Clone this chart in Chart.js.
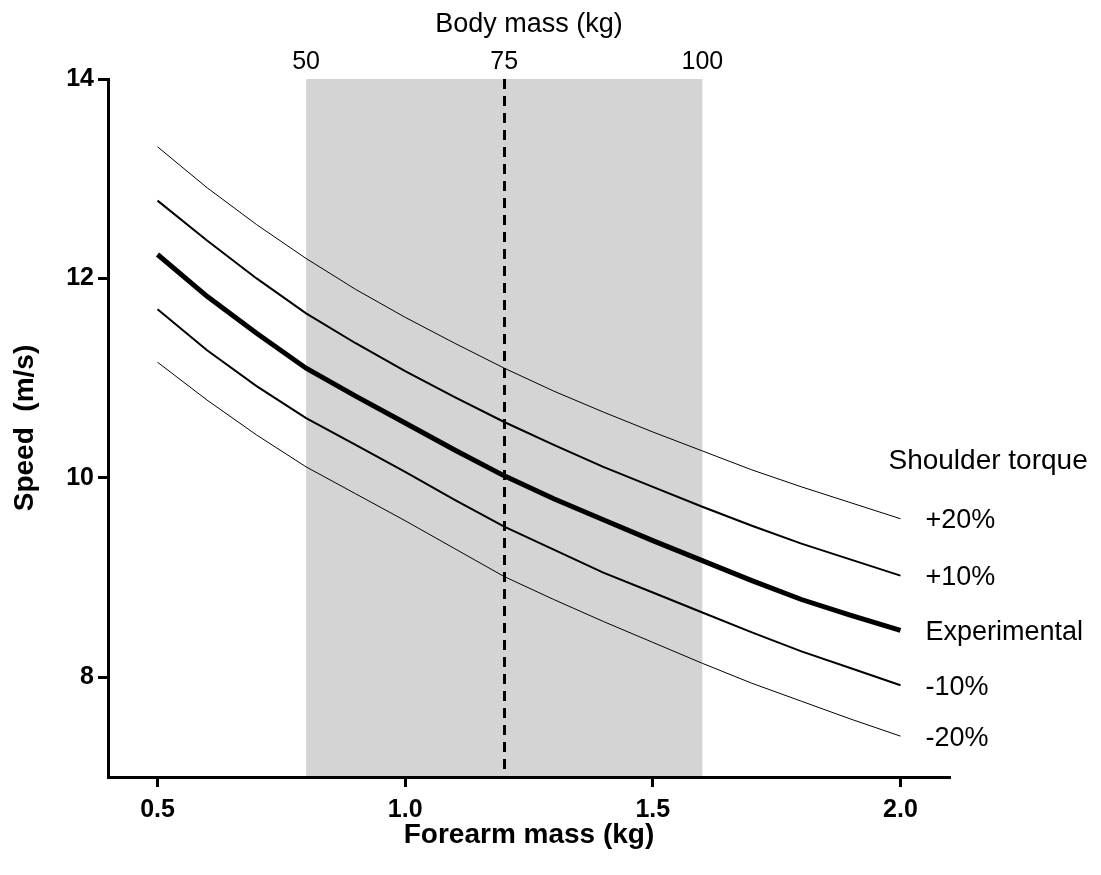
<!DOCTYPE html>
<html>
<head>
<meta charset="utf-8">
<script src="https://cdn.jsdelivr.net/npm/chart.js@4.4.1/dist/chart.umd.min.js"></script>
<style>
  html, body { margin: 0; padding: 0; background: #ffffff; }
  #wrap { width: 1101px; height: 875px; }
</style>
</head>
<body>
<div id="wrap"><canvas id="chart" width="1101" height="875"></canvas></div>
<script>
// Forearm mass (kg) at which the model speed was evaluated
const forearmMass = [0.5, 0.6, 0.7, 0.8, 0.9, 1.0, 1.1, 1.2, 1.3, 1.4, 1.5, 1.6, 1.7, 1.8, 1.9, 2.0];

// Predicted speed (m/s) for each shoulder torque condition
const speedPlus20 = [13.32, 12.91, 12.54, 12.20, 11.89, 11.61, 11.35, 11.10, 10.87, 10.66, 10.46, 10.27, 10.08, 9.91, 9.75, 9.59];
const speedPlus10 = [12.78, 12.38, 12.00, 11.65, 11.35, 11.07, 10.81, 10.56, 10.33, 10.11, 9.91, 9.71, 9.52, 9.34, 9.18, 9.02];
const speedExperimental = [12.24, 11.82, 11.45, 11.10, 10.82, 10.55, 10.28, 10.02, 9.79, 9.58, 9.37, 9.17, 8.97, 8.78, 8.62, 8.47];
const speedMinus10 = [11.69, 11.28, 10.92, 10.60, 10.33, 10.06, 9.78, 9.51, 9.28, 9.05, 8.85, 8.65, 8.45, 8.26, 8.09, 7.92];
const speedMinus20 = [11.16, 10.78, 10.43, 10.11, 9.84, 9.57, 9.29, 9.01, 8.78, 8.56, 8.35, 8.14, 7.94, 7.76, 7.58, 7.41];

const seriesLabels = ['+20%', '+10%', 'Experimental', '-10%', '-20%'];
const legendHeading = 'Shoulder torque';

// Axis ticks
const forearmTicks = [0.5, 1.0, 1.5, 2.0];
const speedTicks = [8, 10, 12, 14];
const bodyMassTicks = [50, 75, 100];

// Typical adult body-mass range and the reference body mass
const bodyMassRange = [50, 100];
const referenceBodyMass = 75;
// forearm mass as a fraction of body mass
const forearmFraction = 0.016;

const forearmMin = 0.4, forearmMax = 2.1;

const toPoints = vals => forearmMass.map((m, i) => ({ x: m, y: vals[i] }));

const seriesValues = [speedPlus20, speedPlus10, speedExperimental, speedMinus10, speedMinus20];
const seriesWidths = [1, 2, 5, 2, 1];

const datasets = seriesValues.map((vals, i) => ({
  label: seriesLabels[i],
  data: toPoints(vals),
  borderColor: '#000000',
  borderWidth: seriesWidths[i],
  pointRadius: 0,
  tension: 0,
  fill: false,
  xAxisID: 'x',
  yAxisID: 'y'
}));

const sans = '"Liberation Sans", Arial, sans-serif';

// Shaded body-mass band and dashed reference line, painted under axes and curves
const bandPlugin = {
  id: 'bodyMassBand',
  beforeDraw(chart) {
    const { ctx, chartArea, scales } = chart;
    const top = scales.x2;
    const l = top.getPixelForValue(bodyMassRange[0]);
    const r = top.getPixelForValue(bodyMassRange[1]);
    ctx.save();
    ctx.fillStyle = '#d4d4d4';
    ctx.fillRect(l, chartArea.top, r - l, chartArea.bottom - chartArea.top);
    const xr = Math.round(top.getPixelForValue(referenceBodyMass)) + 0.5;
    ctx.strokeStyle = '#000000';
    ctx.lineWidth = 3;
    ctx.setLineDash([10, 7]);
    ctx.beginPath();
    ctx.moveTo(xr, chartArea.top);
    ctx.lineTo(xr, chartArea.bottom);
    ctx.stroke();
    ctx.restore();
  }
};

// Series names written at the right-hand end of each curve
const endLabelPlugin = {
  id: 'endLabels',
  afterDatasetsDraw(chart) {
    const { ctx } = chart;
    ctx.save();
    ctx.fillStyle = '#000000';
    ctx.textBaseline = 'middle';
    ctx.textAlign = 'left';
    ctx.font = '27px ' + sans;
    let firstY = null, endX = null;
    chart.data.datasets.forEach((ds, i) => {
      const meta = chart.getDatasetMeta(i);
      const pt = meta.data[meta.data.length - 1];
      if (firstY === null) { firstY = pt.y; endX = pt.x; }
      ctx.fillText(ds.label, pt.x + 25, pt.y + 2);
    });
    ctx.font = '28px ' + sans;
    ctx.fillText(legendHeading, endX - 12, firstY - 57);
    ctx.restore();
  }
};

const fixedSize = (prop, size) => scale => { scale[prop] = size; };

new Chart(document.getElementById('chart'), {
  type: 'line',
  data: { datasets },
  options: {
    responsive: false,
    animation: false,
    layout: { padding: { left: 0, right: 151, top: 0, bottom: 0 } },
    plugins: { legend: { display: false }, tooltip: { enabled: false } },
    scales: {
      x: {
        type: 'linear',
        position: 'bottom',
        min: forearmMin,
        max: forearmMax,
        afterBuildTicks: s => { s.ticks = forearmTicks.map(v => ({ value: v })); },
        afterFit: fixedSize('height', 98),
        grid: { drawOnChartArea: false, drawTicks: true, tickLength: 10, tickWidth: 3, tickColor: '#000000' },
        border: { display: true, width: 3, color: '#000000' },
        ticks: {
          color: '#000000',
          padding: 8,
          maxRotation: 0,
          font: { family: sans, size: 25, weight: 'bold' },
          callback: v => Number(v).toFixed(1)
        },
        title: {
          display: true,
          text: 'Forearm mass (kg)',
          color: '#000000',
          font: { family: sans, size: 28, weight: 'bold' },
          padding: { top: 0, bottom: 23 }
        }
      },
      x2: {
        type: 'linear',
        position: 'top',
        min: forearmMin / forearmFraction,
        max: forearmMax / forearmFraction,
        afterBuildTicks: s => { s.ticks = bodyMassTicks.map(v => ({ value: v })); },
        afterFit: fixedSize('height', 79),
        grid: { display: false, drawTicks: false },
        border: { display: false },
        ticks: {
          color: '#000000',
          padding: 2,
          maxRotation: 0,
          font: { family: sans, size: 25 }
        },
        title: {
          display: true,
          text: 'Body mass (kg)',
          color: '#000000',
          font: { family: sans, size: 27 },
          padding: { top: 8, bottom: 0 }
        }
      },
      y: {
        type: 'linear',
        position: 'left',
        min: 7,
        max: 14,
        afterBuildTicks: s => { s.ticks = speedTicks.map(v => ({ value: v })); },
        afterFit: fixedSize('width', 108),
        grid: { drawOnChartArea: false, drawTicks: true, tickLength: 10, tickWidth: 3, tickColor: '#000000' },
        border: { display: true, width: 3, color: '#000000' },
        ticks: {
          color: '#000000',
          padding: 4,
          font: { family: sans, size: 25, weight: 'bold' }
        },
        title: {
          display: true,
          text: 'Speed  (m/s)',
          color: '#000000',
          font: { family: sans, size: 28, weight: 'bold' },
          padding: { top: 8, bottom: 0 }
        }
      }
    }
  },
  plugins: [bandPlugin, endLabelPlugin]
});
</script>
</body>
</html>
